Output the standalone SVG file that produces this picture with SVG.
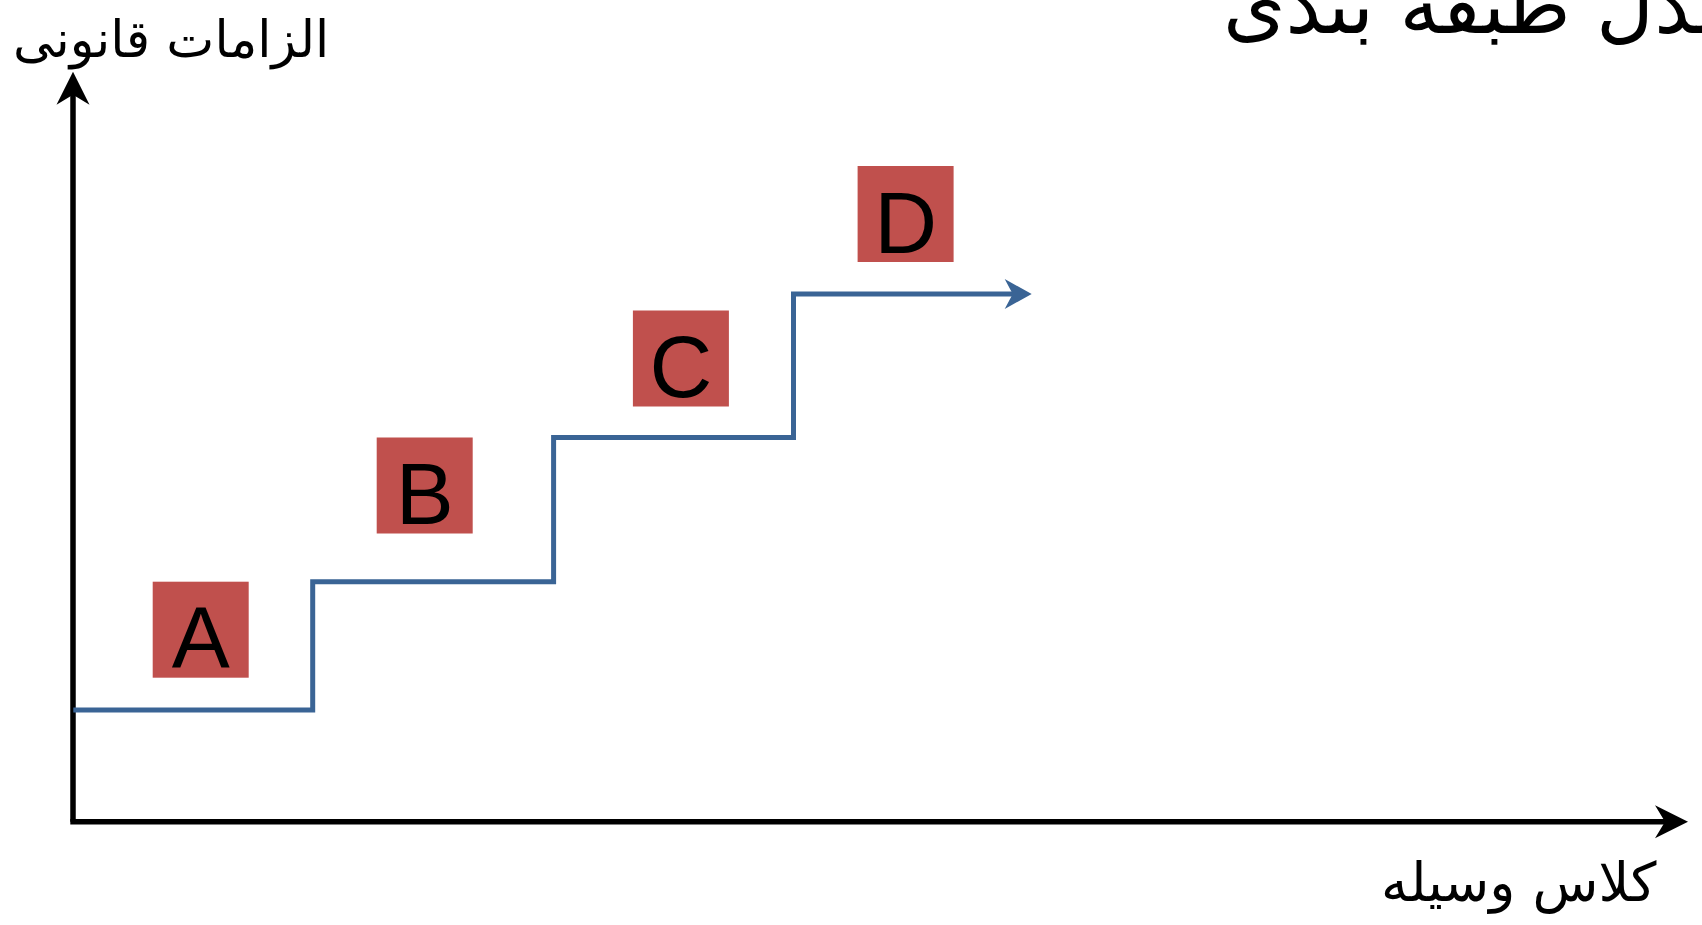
<svg xmlns="http://www.w3.org/2000/svg" width="1702" height="925" viewBox="0 0 1702 925">
<style>
.box{fill:#C0504D}
.lbl{font-family:"Liberation Sans",Arial,sans-serif;font-size:87px;fill:#000;text-anchor:middle}
.fa{font-family:"DejaVu Sans","Noto Sans",sans-serif;fill:#000}
.axis{stroke:#000;stroke-width:5.5;fill:none}
.step{stroke:#3A6495;stroke-width:5;fill:none}
</style>
<defs>
<marker id="ahK" markerUnits="userSpaceOnUse" markerWidth="60" markerHeight="40" viewBox="-35 -20 60 40" refX="-13" refY="0" orient="auto">
<path d="M0,0 L-33,-16.5 L-23,0 L-33,16.5 Z" fill="#000"/>
</marker>
<marker id="ahB" markerUnits="userSpaceOnUse" markerWidth="60" markerHeight="40" viewBox="-35 -20 60 40" refX="-11" refY="0" orient="auto">
<path d="M0,0 L-27,-15 L-19,0 L-27,15 Z" fill="#3A6495"/>
</marker>
</defs>
<g id="title"><text class="fa" x="1223" y="33" font-size="80">مدل طبقه بندی</text></g>
<g id="ylabel"><text class="fa" x="13" y="57" font-size="51">الزامات قانونی</text></g>
<g id="xlabel"><text class="fa" x="1381" y="901" font-size="54">کلاس وسیله</text></g>
<g id="connectors">
<path class="axis" d="M73,821.7 L73,84.7" marker-end="url(#ahK)"/>
<path class="axis" d="M70.3,821.7 L1675,821.7" marker-end="url(#ahK)"/>
<path class="step" d="M73.3,710 L312.7,710 L312.7,581.8 L553.6,581.8 L553.6,437.5 L793.5,437.5 L793.5,294 L1020.7,294" marker-end="url(#ahB)"/>
</g>
<g id="A"><rect class="box" x="152.7" y="581.7" width="96" height="96"/><text class="lbl" x="200.8" y="668">A</text></g>
<g id="B"><rect class="box" x="376.7" y="437.5" width="96" height="96"/><text class="lbl" x="424.7" y="524">B</text></g>
<g id="C"><rect class="box" x="632.9" y="310.5" width="96" height="96"/><text class="lbl" x="680.9" y="397">C</text></g>
<g id="D"><rect class="box" x="857.6" y="166" width="96" height="96"/><text class="lbl" x="905.6" y="252.5">D</text></g>
</svg>
